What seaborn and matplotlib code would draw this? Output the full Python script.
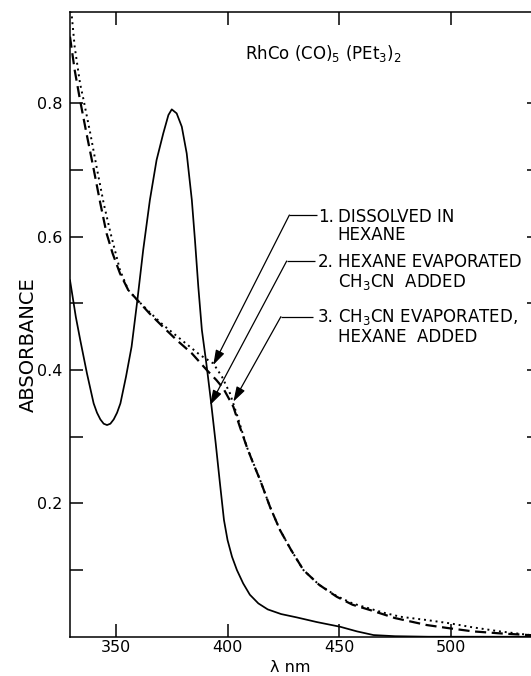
import numpy as np
import pandas as pd
import matplotlib
matplotlib.use("Agg")
import matplotlib.pyplot as plt
import seaborn as sns

# ---------------- data ----------------
wl_dissolved = [329.4, 332, 334, 337, 340, 341.5, 343, 344.5, 346, 347.5, 349, 350.5, 352, 354.5,
                357, 359.6, 362.2, 365.2, 368.2, 371.2, 373.5, 375, 377.2, 379.5, 381.7,
                384, 385.4, 386.9, 388.5, 390.5, 392.5, 394.7, 396.6, 398.4, 400, 402,
                404.2, 407, 410, 413.8, 418, 424, 431, 440, 450.4, 458, 465.4, 475, 490, 540]
abs_dissolved = [0.535, 0.48, 0.445, 0.395, 0.35, 0.336, 0.326, 0.3195, 0.3175, 0.3195, 0.326, 0.336, 0.35, 0.39,
                 0.435, 0.505, 0.58, 0.655, 0.715, 0.755, 0.7825, 0.791, 0.785, 0.765, 0.725,
                 0.655, 0.595, 0.525, 0.46, 0.41, 0.355, 0.29, 0.23, 0.175, 0.145, 0.12,
                 0.10, 0.08, 0.063, 0.05, 0.041, 0.034, 0.029, 0.022, 0.015, 0.008, 0.0025, 0.0008, 0.0, 0.0]

wl_acetonitrile = [329.4, 331.5, 333.9, 336.5, 339.8, 343, 345.8, 348.5, 351.8, 355.5, 359.6, 365,
                   371, 377.2, 384, 390.7, 395, 398.1, 402.6, 405.5, 408.6, 411.5, 414.6, 419,
                   423.5, 428.5, 434, 441, 448.9, 456, 463.9, 475, 489.3, 499.8, 510, 522.2, 535, 540]
abs_acetonitrile = [0.90, 0.85, 0.805, 0.76, 0.705, 0.65, 0.605, 0.575, 0.545, 0.52, 0.505, 0.485,
                    0.465, 0.445, 0.425, 0.40, 0.385, 0.3725, 0.345, 0.315, 0.285, 0.26, 0.235, 0.195,
                    0.16, 0.13, 0.10, 0.078, 0.06, 0.048, 0.04, 0.028, 0.0175, 0.0125, 0.008, 0.005, 0.0025, 0.002]

wl_rehexane = [329.4, 331.5, 333.9, 335.5, 338.5, 341.3, 344.5, 347.6, 351.8, 355.5, 359.6, 365,
               371, 378.7, 387.7, 393.6, 397.5, 401.1, 404.5, 408.6, 414.6, 419, 423.5, 428.5,
               434, 441, 448.9, 456, 463.9, 470, 477.4, 489.3, 499.8, 510, 522, 535.6, 540]
abs_rehexane = [0.96, 0.885, 0.83, 0.805, 0.755, 0.705, 0.65, 0.605, 0.55, 0.52, 0.505, 0.487,
                0.468, 0.447, 0.4225, 0.41, 0.39, 0.365, 0.33, 0.285, 0.235, 0.195, 0.16, 0.13,
                0.10, 0.078, 0.061, 0.05, 0.042, 0.036, 0.03, 0.025, 0.02, 0.014, 0.008, 0.0025, 0.002]

conditions = ["1", "2", "3"]

x_ticks = [350, 400, 450, 500]
y_major = [0.2, 0.4, 0.6, 0.8]
y_minor = [0.1, 0.3, 0.5, 0.7]
y_ticklabels = ["0.2", "0.4", "0.6", "0.8"]

# annotation texts
label_numbers = ["1.", "2.", "3."]
label_line1 = ["DISSOLVED IN", "HEXANE EVAPORATED", "CH$_3$CN EVAPORATED,"]
label_line2 = ["HEXANE", "CH$_3$CN  ADDED", "HEXANE  ADDED"]
label_base1 = [0.6225, 0.554, 0.4717]
label_base2 = [0.595, 0.524, 0.4416]
label_num_x = 447.6
label_txt_x = 449.3

# leader lines: elbow, horizontal end, arrow tip
elbow_x = [427.7, 426.5, 423.9]
elbow_y = [0.6325, 0.5635, 0.48]
hend_x = [440.1, 439.2, 438.3]
tip_x = [393.6, 392.2, 402.6]
tip_y = [0.4075, 0.3475, 0.3525]

title_text = r"RhCo (CO)$_5$ (PEt$_3$)$_2$"

# ---------------- build table ----------------
df = pd.concat([
    pd.DataFrame({"wavelength": wl_dissolved, "absorbance": abs_dissolved, "condition": "1"}),
    pd.DataFrame({"wavelength": wl_acetonitrile, "absorbance": abs_acetonitrile, "condition": "2"}),
    pd.DataFrame({"wavelength": wl_rehexane, "absorbance": abs_rehexane, "condition": "3"}),
], ignore_index=True)

sns.set_theme(style="ticks")
plt.rcParams["font.family"] = ["DejaVu Sans"]
plt.rcParams["axes.linewidth"] = 1.1
plt.rcParams["text.color"] = "black"
plt.rcParams["axes.labelcolor"] = "black"
plt.rcParams["xtick.color"] = "black"
plt.rcParams["ytick.color"] = "black"

fig = plt.figure(figsize=(5.31, 6.76), dpi=100)
ax = fig.add_axes([0.1318, 0.0581, 0.8851, 0.9246])

sns.lineplot(data=df, x="wavelength", y="absorbance", style="condition",
             style_order=conditions,
             dashes={"1": "", "2": (5, 2.5), "3": (1, 2)},
             color="black", linewidth=1.3, estimator=None, legend=False, ax=ax)
for ln in ax.lines:
    ln.set_dash_capstyle("butt")
ax.lines[0].set_linewidth(1.25)
ax.lines[1].set_linewidth(1.6)
ax.lines[2].set_linewidth(1.4)

ax.set_xlim(329.4, 540)
ax.set_ylim(0, 0.9375)

ax.set_xticks(x_ticks)
ax.set_xticklabels([str(t) for t in x_ticks])
ax.set_yticks(y_major)
ax.set_yticklabels(y_ticklabels)
ax.set_yticks(y_minor, minor=True)

for s in ax.spines.values():
    s.set_visible(True)
    s.set_linewidth(1.1)
    s.set_color("black")

ax.tick_params(axis="both", which="both", direction="in", length=9.4, width=1.1,
               color="black", labelcolor="black", top=True, right=True,
               labelright=False, labeltop=False)
ax.tick_params(axis="x", labelsize=11.5, pad=2.5)
ax.tick_params(axis="y", labelsize=11.5, pad=5.5)

ax.set_xlabel("λ nm", fontsize=11.5, color="black")
ax.xaxis.set_label_coords(0.468, -0.050)
ax.xaxis.label.set_verticalalignment("center")
ax.set_ylabel("ABSORBANCE", fontsize=14, color="black")
ax.yaxis.set_label_coords(-0.0887, 0.468)
ax.yaxis.label.set_verticalalignment("center")

ax.text(407.8, 0.8665, title_text, fontsize=12, ha="left", va="baseline", color="black")

for i in range(3):
    ax.plot([elbow_x[i], hend_x[i]], [elbow_y[i], elbow_y[i]], color="black", lw=0.9,
            solid_capstyle="butt")
    ax.annotate("", xy=(tip_x[i], tip_y[i]), xytext=(elbow_x[i], elbow_y[i]),
                arrowprops=dict(arrowstyle="-|>,head_length=0.9,head_width=0.28",
                                color="black", lw=0.9, mutation_scale=10,
                                shrinkA=0, shrinkB=0))
    ax.text(label_num_x, label_base1[i], label_numbers[i], fontsize=12, ha="right",
            va="baseline", color="black")
    ax.text(label_txt_x, label_base1[i], label_line1[i], fontsize=12, ha="left",
            va="baseline", color="black")
    ax.text(label_txt_x, label_base2[i], label_line2[i], fontsize=12, ha="left",
            va="baseline", color="black")

ax.set_facecolor("white")
fig.patch.set_facecolor("white")
fig.savefig("out.png", dpi=100)
